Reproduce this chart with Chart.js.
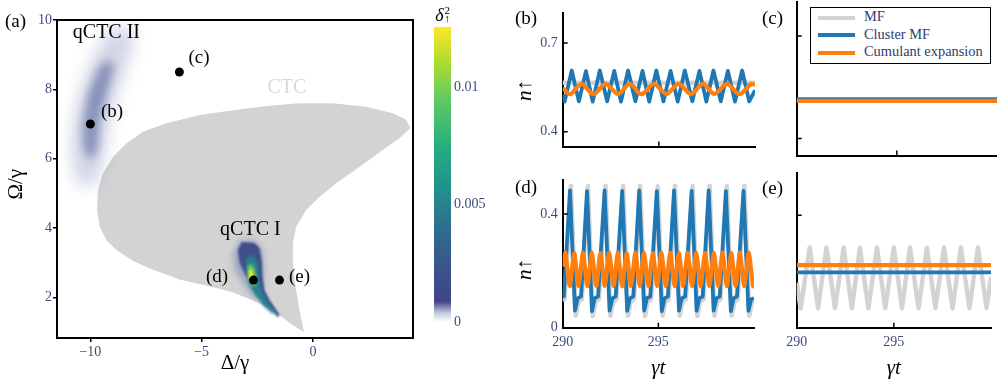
<!DOCTYPE html>
<html>
<head>
<meta charset="utf-8">
<script src="https://cdn.jsdelivr.net/npm/chart.js@4.4.1/dist/chart.umd.min.js"></script>
<style>
  body { margin: 0; background: #fff; }
  #fig { position: relative; width: 997px; height: 386px; overflow: hidden; font-family: 'Liberation Serif', 'Times New Roman', serif; }
  #fig canvas { position: absolute; }
  .tag { position: absolute; font-size: 19px; line-height: 19px; color: #000; }
  #legend { position: absolute; left: 810px; top: 7px; width: 179px; border: 1.5px solid #000; background: #fff; padding: 0 0 2px 0; }
  #legend div { height: 17.5px; line-height: 17.5px; font-size: 14.4px; color: #2e3d6b; white-space: nowrap; }
  #legend span { display: inline-block; width: 37px; height: 4px; margin: 0 9px 0 7px; vertical-align: middle; }
</style>
</head>
<body>
<div id="fig">
  <canvas id="mapChart" width="430" height="386" style="left:0;top:0"></canvas>
  <canvas id="cbarChart" width="80" height="386" style="left:420px;top:0"></canvas>
  <canvas id="chartB" width="260" height="160" style="left:500px;top:0"></canvas>
  <canvas id="chartC" width="257" height="160" style="left:740px;top:0"></canvas>
  <canvas id="chartD" width="260" height="226" style="left:500px;top:160px"></canvas>
  <canvas id="chartE" width="257" height="226" style="left:740px;top:160px"></canvas>
  <div class="tag" style="left:5px;top:11px">(a)</div>
  <div class="tag" style="left:515px;top:8px">(b)</div>
  <div class="tag" style="left:762px;top:8px">(c)</div>
  <div class="tag" style="left:515px;top:177px">(d)</div>
  <div class="tag" style="left:762px;top:178px">(e)</div>
  <div id="legend"></div>
</div>
<script>
// ---------- panel (a): phase diagram ----------
// CTC region (grey) boundary
const ctcDelta = [-0.40, -0.60, -0.80, -0.90, -0.90, -0.75, -0.30, 0.30, 1.05, 2.10, 3.14, 3.89, 4.37, 4.20, 3.59, 2.40, 0.90, -0.60, -2.09, -3.59, -5.09, -6.59, -7.64, -8.39, -8.98, -9.43, -9.66, -9.70, -9.58, -9.28, -8.83, -8.09, -7.19, -6.50, -6.00, -4.51, -3.61, -2.71, -2.08, -1.50, -0.91, -0.40];
const ctcOmega = [1.00, 1.64, 2.40, 3.00, 3.56, 4.04, 4.52, 4.90, 5.29, 5.77, 6.25, 6.59, 6.88, 7.12, 7.31, 7.50, 7.60, 7.60, 7.52, 7.40, 7.26, 7.02, 6.78, 6.44, 6.06, 5.58, 5.10, 4.52, 4.04, 3.65, 3.37, 3.05, 2.80, 2.64, 2.52, 2.30, 2.15, 1.92, 1.72, 1.49, 1.20, 1.00];

// qCTC II blob (delta^2 contours)
const q2OuterDelta = [-10.75, -10.85, -10.65, -10.28, -9.72, -9.10, -8.05, -8.10, -8.52, -8.98, -9.25, -9.45, -9.75, -10.55, -10.75];
const q2OuterOmega = [5.53, 6.54, 7.40, 8.27, 9.13, 9.71, 9.77, 9.28, 8.41, 7.55, 6.68, 5.82, 5.24, 5.24, 5.53];
const q2InnerDelta = [-10.30, -10.36, -10.12, -9.68, -9.30, -8.92, -9.22, -9.58, -9.68, -9.98, -10.30];
const q2InnerOmega = [6.25, 6.97, 7.84, 8.56, 8.85, 8.70, 7.98, 7.12, 6.25, 5.96, 6.25];

// qCTC I blob (delta^2 contours, low to high)
const q1HaloDelta = [-3.29, -3.61, -3.47, -3.02, -2.57, -2.30, -2.21, -2.26, -2.62, -3.29];
const q1HaloOmega = [3.65, 3.22, 2.73, 2.30, 1.92, 2.21, 2.79, 3.37, 3.65, 3.65];
const q1BlueDelta = [-3.20, -3.38, -3.29, -3.07, -2.75, -2.48, -2.17, -1.85, -1.58, -1.49, -1.94, -2.17, -2.26, -2.30, -2.39, -2.62, -3.20];
const q1BlueOmega = [3.60, 3.37, 2.99, 2.70, 2.41, 2.13, 1.84, 1.64, 1.43, 1.49, 1.92, 2.21, 2.59, 3.08, 3.42, 3.57, 3.60];
const q1TealDelta = [-2.98, -3.02, -2.84, -2.57, -2.21, -1.85, -1.67, -2.03, -2.30, -2.44, -2.48, -2.71, -2.98];
const q1TealOmega = [3.14, 2.79, 2.36, 2.04, 1.75, 1.55, 1.52, 1.87, 2.21, 2.64, 3.02, 3.22, 3.14];
const q1GreenDelta = [-2.93, -2.92, -2.76, -2.60, -2.55, -2.62, -2.80, -2.93];
const q1GreenOmega = [2.90, 2.55, 2.35, 2.30, 2.55, 2.85, 2.97, 2.90];
const q1YellowDelta = [-2.88, -2.87, -2.76, -2.68, -2.71, -2.80, -2.88];
const q1YellowOmega = [2.75, 2.55, 2.45, 2.58, 2.75, 2.82, 2.75];

// marked parameter points
const pointDelta = [-10, -6, -2.67, -1.5];
const pointOmega = [7, 8.5, 2.5, 2.5];

const deltaTicks = [-10, -5, 0];
const omegaTicks = [2, 4, 6, 8, 10];
const cbarRange = [0, 0.01256];
const cbarTicks = [0, 0.005, 0.01];

// ---------- panels (b)-(e): n_up vs gamma t ----------
const seriesNames = ['MF', 'Cluster MF', 'Cumulant expansion'];
const timeTicks = [290, 295, 300];
const timeTickLabels = ['290', '295', ''];
const nTicksUpper = [0.4, 0.7];
const nTicksLower = [0, 0.4];

// (b)
const bGreyT = [290, 300];
const bGreyN = [0.566, 0.566];
const bBlueT = [290.00, 290.10, 290.47, 290.84, 291.21, 291.56, 291.93, 292.31, 292.68, 293.03, 293.40, 293.78, 294.15, 294.50, 294.87, 295.24, 295.61, 295.98, 296.35, 296.74, 297.11, 297.47, 297.84, 298.22, 298.59, 298.96, 299.33, 299.70, 300.00];
const bBlueN = [0.525, 0.502, 0.607, 0.503, 0.605, 0.502, 0.607, 0.503, 0.606, 0.502, 0.607, 0.503, 0.606, 0.502, 0.607, 0.503, 0.606, 0.502, 0.607, 0.503, 0.606, 0.502, 0.607, 0.503, 0.606, 0.502, 0.607, 0.503, 0.540];
const bOrangeT = [290.00, 290.38, 290.98, 291.59, 292.23, 292.88, 293.49, 294.09, 294.74, 295.39, 296.03, 296.68, 297.29, 297.89, 298.54, 299.19, 299.80, 300.00];
const bOrangeN = [0.548, 0.527, 0.562, 0.527, 0.562, 0.528, 0.562, 0.527, 0.562, 0.528, 0.562, 0.527, 0.562, 0.528, 0.562, 0.527, 0.562, 0.558];

// (c)
const cGreyT = [290, 300];
const cGreyN = [0.513, 0.513];
const cBlueT = [290, 300];
const cBlueN = [0.515, 0.515];
const cOrangeT = [290, 300];
const cOrangeN = [0.510, 0.510];

// (d)
const dGreyT = [290.00, 290.10, 290.43, 290.68, 290.82, 291.00, 291.32, 291.57, 291.71, 291.89, 292.24, 292.49, 292.63, 292.81, 293.16, 293.41, 293.55, 293.73, 294.05, 294.30, 294.44, 294.62, 294.97, 295.22, 295.36, 295.54, 295.87, 296.12, 296.26, 296.44, 296.79, 297.04, 297.18, 297.36, 297.68, 297.93, 298.07, 298.25, 298.58, 298.83, 298.97, 299.15, 299.50, 299.75, 299.89, 300.00];
const dGreyN = [0.095, 0.100, 0.500, 0.042, 0.090, 0.100, 0.498, 0.041, 0.091, 0.100, 0.500, 0.042, 0.090, 0.100, 0.499, 0.042, 0.090, 0.100, 0.500, 0.041, 0.091, 0.100, 0.498, 0.042, 0.090, 0.100, 0.500, 0.042, 0.090, 0.100, 0.499, 0.041, 0.091, 0.100, 0.500, 0.042, 0.090, 0.100, 0.498, 0.042, 0.090, 0.100, 0.500, 0.042, 0.090, 0.095];
const dBlueT = [290.00, 290.06, 290.38, 290.64, 290.78, 290.96, 291.27, 291.53, 291.67, 291.85, 292.19, 292.45, 292.59, 292.77, 293.11, 293.37, 293.51, 293.69, 294.00, 294.26, 294.40, 294.58, 294.92, 295.18, 295.32, 295.50, 295.82, 296.08, 296.22, 296.40, 296.74, 297.00, 297.14, 297.32, 297.63, 297.89, 298.03, 298.21, 298.53, 298.79, 298.93, 299.11, 299.45, 299.71, 299.85, 300.00];
const dBlueN = [0.107, 0.110, 0.483, 0.060, 0.103, 0.110, 0.481, 0.058, 0.104, 0.110, 0.483, 0.060, 0.103, 0.110, 0.482, 0.059, 0.103, 0.110, 0.483, 0.060, 0.104, 0.110, 0.481, 0.058, 0.103, 0.110, 0.483, 0.060, 0.103, 0.110, 0.482, 0.059, 0.104, 0.110, 0.483, 0.060, 0.103, 0.110, 0.481, 0.058, 0.103, 0.110, 0.482, 0.059, 0.100, 0.104];
const dOrangeT = [290.00, 290.14, 290.37, 290.60, 290.83, 291.06, 291.29, 291.52, 291.75, 291.97, 292.20, 292.43, 292.66, 292.88, 293.11, 293.34, 293.57, 293.80, 294.03, 294.25, 294.48, 294.71, 294.94, 295.16, 295.39, 295.62, 295.85, 296.07, 296.30, 296.53, 296.76, 296.98, 297.21, 297.44, 297.67, 297.90, 298.13, 298.35, 298.58, 298.81, 299.04, 299.26, 299.49, 299.72, 299.95, 300.00];
const dOrangeN = [0.215, 0.264, 0.146, 0.263, 0.147, 0.264, 0.146, 0.264, 0.146, 0.263, 0.147, 0.264, 0.146, 0.264, 0.146, 0.263, 0.147, 0.264, 0.146, 0.264, 0.146, 0.263, 0.147, 0.264, 0.146, 0.264, 0.146, 0.263, 0.147, 0.264, 0.146, 0.264, 0.146, 0.263, 0.147, 0.264, 0.146, 0.264, 0.146, 0.263, 0.147, 0.264, 0.146, 0.264, 0.146, 0.152];

// (e)
const eGreyT = [290.00, 290.20, 290.67, 291.10, 291.53, 291.97, 292.42, 292.84, 293.25, 293.69, 294.13, 294.56, 295.00, 295.42, 295.83, 296.27, 296.70, 297.14, 297.58, 298.02, 298.45, 298.89, 299.33, 299.77, 300.00];
const eGreyN = [0.160, 0.069, 0.285, 0.069, 0.285, 0.070, 0.285, 0.069, 0.284, 0.069, 0.285, 0.070, 0.285, 0.069, 0.285, 0.069, 0.284, 0.070, 0.285, 0.069, 0.285, 0.069, 0.285, 0.070, 0.180];
const eBlueT = [290, 300];
const eBlueN = [0.197, 0.197];
const eOrangeT = [290, 300];
const eOrangeN = [0.2226, 0.2226];

// ---------- styles ----------
const serif = "'Liberation Serif', 'Times New Roman', serif";
const tickColor = '#3d4b7b';
const lineColors = ['#d3d3d3', '#1f77b4', '#ff7f0e'];
const lineWidths = [4.5, 3.8, 4.2];

Chart.defaults.font.family = serif;
Chart.defaults.font.size = 14;
Chart.defaults.color = tickColor;
Chart.defaults.animation = false;
Chart.defaults.events = [];
Chart.defaults.plugins.legend.display = false;
Chart.defaults.plugins.tooltip.enabled = false;

function xy(xs, ys) {
  return xs.map((v, i) => ({ x: v, y: ys[i] }));
}
function fixedTicks(values) {
  return scale => { scale.ticks = values.map(v => ({ value: v })); };
}

// soft edges for the density blobs: this has to run before the filler plugin
const blurPlugin = {
  id: 'blobBlur',
  beforeDatasetDraw(chart, args) {
    const b = chart.data.datasets[args.index].blur;
    if (b) { chart.ctx.save(); chart.ctx.filter = 'blur(' + b + 'px)'; }
  },
  afterDatasetDraw(chart, args) {
    if (chart.data.datasets[args.index].blur) chart.ctx.restore();
  }
};
Chart.register(blurPlugin);
if (Chart.Filler) { Chart.unregister(Chart.Filler); Chart.register(Chart.Filler); }

// box round panel (a)
const framePlugin = {
  id: 'frame',
  afterDraw(chart) {
    const { ctx, chartArea: a } = chart;
    ctx.save();
    ctx.strokeStyle = '#000';
    ctx.lineWidth = 2;
    ctx.strokeRect(a.left, a.top, a.right - a.left, a.bottom - a.top);
    ctx.restore();
  }
};

// text placed at data coordinates
const textPlugin = {
  id: 'textMarks',
  afterDatasetsDraw(chart, args, opts) {
    const { ctx, scales: { x, y } } = chart;
    (opts.items || []).forEach(it => {
      ctx.save();
      ctx.font = it.font;
      ctx.fillStyle = it.color || '#000';
      ctx.textAlign = 'center';
      ctx.textBaseline = 'middle';
      ctx.fillText(it.text, x.getPixelForValue(it.x), y.getPixelForValue(it.y));
      ctx.restore();
    });
  }
};

// tick marks pointing into the plot for (b)-(e)
const inwardTicks = {
  id: 'inwardTicks',
  afterDraw(chart, args, opts) {
    const len = opts.len || 5;
    const { ctx, chartArea: a, scales: { x, y } } = chart;
    ctx.save();
    ctx.strokeStyle = '#000';
    ctx.lineWidth = 1.5;
    ctx.beginPath();
    x.ticks.forEach(t => {
      const px = x.getPixelForValue(t.value);
      if (px > a.left + 2 && px < a.right - 2) { ctx.moveTo(px, a.bottom); ctx.lineTo(px, a.bottom - len); }
    });
    y.ticks.forEach(t => {
      const py = y.getPixelForValue(t.value);
      if (py > a.top + 2 && py < a.bottom - 2) { ctx.moveTo(a.left, py); ctx.lineTo(a.left + len, py); }
    });
    ctx.stroke();
    ctx.restore();
  }
};

// ---------- panel (a) ----------
function shape(xs, ys, color, blur) {
  return { data: xy(xs, ys), fill: 'shape', backgroundColor: color, borderColor: 'rgba(0,0,0,0)', borderWidth: 0, pointRadius: 0, blur: blur };
}
const mapSets = [
  shape(ctcDelta, ctcOmega, '#d3d3d3', 0),
  shape(q2OuterDelta, q2OuterOmega, 'rgba(72,86,152,0.25)', 8),
  shape(q2InnerDelta, q2InnerOmega, 'rgba(64,78,146,0.5)', 5),
  shape(q1HaloDelta, q1HaloOmega, 'rgba(80,94,160,0.40)', 3),
  shape(q1BlueDelta, q1BlueOmega, '#3f4f8c', 1.2),
  shape(q1TealDelta, q1TealOmega, '#27808e', 1.5),
  shape(q1GreenDelta, q1GreenOmega, '#72c85f', 1.5),
  shape(q1YellowDelta, q1YellowOmega, '#f4e52c', 1),
  { data: xy(pointDelta, pointOmega), showLine: false, pointRadius: 4.5, pointBackgroundColor: '#000', pointBorderWidth: 0 }
];
mapSets.forEach((d, i) => { d.order = mapSets.length - i; });

new Chart(document.getElementById('mapChart'), {
  type: 'line',
  data: { datasets: mapSets },
  options: {
    responsive: false,
    devicePixelRatio: 1,
    layout: { padding: { top: 20, right: 17, left: 0, bottom: 0 } },
    scales: {
      x: {
        type: 'linear', min: -11.5, max: 4.5,
        afterBuildTicks: fixedTicks(deltaTicks),
        afterFit: s => { s.height = 48; },
        ticks: { padding: 2, maxRotation: 0, callback: v => v < 0 ? '\u2212' + (-v) : String(v) },
        grid: { display: true, drawOnChartArea: false, drawTicks: true, tickLength: 4, color: '#000', lineWidth: 1.5 },
        border: { display: false },
        title: { display: true, text: 'Δ/γ', color: '#000', font: { size: 21 }, padding: { top: 0, bottom: 10 } }
      },
      y: {
        type: 'linear', min: 0.83, max: 10,
        afterBuildTicks: fixedTicks(omegaTicks),
        afterFit: s => { s.width = 57; },
        ticks: { padding: 1, callback: v => String(v) },
        grid: { display: true, drawOnChartArea: false, drawTicks: true, tickLength: 4, color: '#000', lineWidth: 1.5 },
        border: { display: false },
        title: { display: true, text: 'Ω/γ\u00a0\u00a0', color: '#000', font: { size: 21 }, padding: { top: 4, bottom: 0 } }
      }
    },
    plugins: {
      textMarks: {
        items: [
          { text: 'qCTC II', x: -9.28, y: 9.62, font: '20px ' + serif },
          { text: 'CTC', x: -1.17, y: 8.06, font: '20px ' + serif, color: '#d9d9d9' },
          { text: 'qCTC I', x: -2.81, y: 3.94, font: '20px ' + serif },
          { text: '(b)', x: -9.03, y: 7.34, font: '19px ' + serif },
          { text: '(c)', x: -5.12, y: 8.90, font: '19px ' + serif },
          { text: '(d)', x: -4.31, y: 2.58, font: '19px ' + serif },
          { text: '(e)', x: -0.60, y: 2.58, font: '19px ' + serif }
        ]
      }
    }
  },
  plugins: [textPlugin, framePlugin]
});

// ---------- colour bar ----------
const cbarStops = [[0, '#ffffff'], [0.03, '#c5cbe0'], [0.07, '#414487'], [0.2, '#39568c'], [0.33, '#2d708e'], [0.45, '#21918c'], [0.6, '#28ae80'], [0.75, '#5ec962'], [0.88, '#addc30'], [1, '#fde725']];
const cbarTitle = {
  id: 'cbarTitle',
  afterDraw(chart) {
    const { ctx, chartArea: a } = chart;
    const cx = (a.left + a.right) / 2;
    ctx.save();
    ctx.fillStyle = '#000';
    ctx.font = 'italic 18px ' + serif;
    ctx.textAlign = 'right';
    ctx.fillText('δ', cx + 1, a.top - 6);
    ctx.font = '11px ' + serif;
    ctx.textAlign = 'left';
    ctx.fillText('2', cx + 2, a.top - 13);
    ctx.fillText('↑', cx + 2, a.top - 5);
    ctx.restore();
  }
};
new Chart(document.getElementById('cbarChart'), {
  type: 'bar',
  data: {
    labels: [''],
    datasets: [{
      data: [cbarRange],
      barPercentage: 1, categoryPercentage: 1, borderWidth: 0,
      backgroundColor: c => {
        const a = c.chart.chartArea;
        if (!a) return '#21918c';
        const g = c.chart.ctx.createLinearGradient(0, a.bottom, 0, a.top);
        cbarStops.forEach(s => g.addColorStop(s[0], s[1]));
        return g;
      }
    }]
  },
  options: {
    responsive: false,
    devicePixelRatio: 1,
    layout: { padding: { top: 27, bottom: 64, left: 14, right: 0 } },
    scales: {
      x: { display: false },
      y: {
        position: 'right', min: cbarRange[0], max: cbarRange[1],
        afterBuildTicks: fixedTicks(cbarTicks),
        afterFit: s => { s.width = 49; },
        ticks: { padding: 3, callback: v => String(v) },
        grid: { display: false, drawTicks: false },
        border: { display: false }
      }
    }
  },
  plugins: [cbarTitle]
});

// ---------- panels (b)-(e) ----------
function panel(id, cfg) {
  const datasets = cfg.series.map((s, i) => ({
    label: seriesNames[i],
    data: xy(s[0], s[1]),
    borderColor: lineColors[i],
    borderWidth: lineWidths[i],
    borderJoinStyle: 'round',
    pointRadius: 0,
    fill: false,
    tension: s[2] || 0,
    order: 3 - i
  }));
  return new Chart(document.getElementById(id), {
    type: 'line',
    data: { datasets },
    options: {
      responsive: false,
      devicePixelRatio: 1,
      layout: { padding: { top: cfg.top, right: cfg.right, left: 0, bottom: 0 } },
      scales: {
        x: {
          type: 'linear', min: 290, max: 300,
          afterBuildTicks: fixedTicks(timeTicks),
          afterFit: s => { s.height = cfg.xh; },
          ticks: { display: cfg.xLabels, padding: 6, maxRotation: 0, autoSkip: false, callback: (v, i) => timeTickLabels[i] },
          grid: { display: false, drawTicks: false },
          border: { display: true, color: '#000', width: 2 },
          title: { display: cfg.xLabels, text: 'γt', color: '#000', font: { size: 21, style: 'italic' }, padding: { top: 0, bottom: 5 } }
        },
        y: {
          type: 'linear', min: cfg.ymin, max: cfg.ymax,
          afterBuildTicks: fixedTicks(cfg.yTicks),
          afterFit: s => { s.width = cfg.yw; },
          ticks: { display: cfg.yLabels, padding: 5, callback: v => String(v) },
          grid: { display: false, drawTicks: false },
          border: { display: true, color: '#000', width: 2 },
          title: { display: cfg.yLabels, text: cfg.yTitle || '', color: '#000', font: { size: 21, style: 'italic' }, padding: { top: 13, bottom: 0 } }
        }
      },
      plugins: { inwardTicks: { len: 5 } }
    },
    plugins: [inwardTicks]
  });
}

panel('chartB', {
  series: [[bGreyT, bGreyN], [bBlueT, bBlueN], [bOrangeT, bOrangeN, 0.3]],
  top: 2, right: 5, xh: 3.3, yw: 62.7, ymin: 0.35, ymax: 0.8, yTicks: nTicksUpper,
  xLabels: false, yLabels: true, yTitle: 'n↑\u00a0\u00a0\u00a0\u00a0'
});
panel('chartC', {
  series: [[cGreyT, cGreyN], [cBlueT, cBlueN], [cOrangeT, cOrangeN]],
  top: 2, right: 0, xh: 4.5, yw: 56.7, ymin: 0.35, ymax: 0.8, yTicks: nTicksUpper,
  xLabels: false, yLabels: false
});
panel('chartD', {
  series: [[dGreyT, dGreyN], [dBlueT, dBlueN], [dOrangeT, dOrangeN, 0.2]],
  top: 20, right: 5, xh: 58.3, yw: 62.7, ymin: 0, ymax: 0.52, yTicks: nTicksLower,
  xLabels: true, yLabels: true, yTitle: 'n↑\u00a0\u00a0\u00a0\u00a0\u00a0\u00a0'
});
panel('chartE', {
  series: [[eGreyT, eGreyN], [eBlueT, eBlueN], [eOrangeT, eOrangeN]],
  top: 13, right: 0, xh: 58.3, yw: 56.7, ymin: 0, ymax: 0.55, yTicks: nTicksLower,
  xLabels: true, yLabels: false
});

// legend drawn into panel (c)
const legend = document.getElementById('legend');
seriesNames.forEach((name, i) => {
  const row = document.createElement('div');
  row.innerHTML = '<span style="background:' + lineColors[i] + '"></span>' + name;
  legend.appendChild(row);
});
</script>
</body>
</html>
